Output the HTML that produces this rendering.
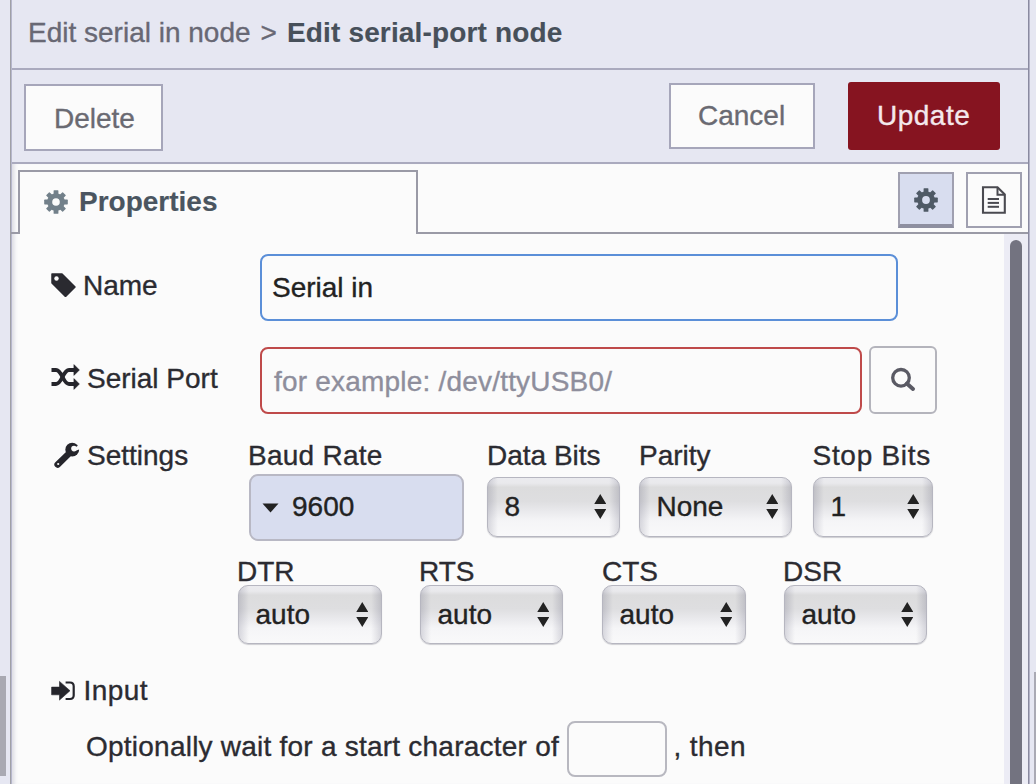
<!DOCTYPE html>
<html><head><meta charset="utf-8">
<style>
*{box-sizing:border-box;margin:0;padding:0}
html,body{width:1036px;height:784px;overflow:hidden}
body{position:relative;background:#e6e7f2;font-family:"Liberation Sans",sans-serif;font-size:28px;color:#2b2b31}
.a{position:absolute}
.t{position:absolute;white-space:pre;line-height:1;-webkit-text-stroke:0.35px currentColor}
.vline{position:absolute;width:1px;background:#9a9aa6}
.hline{position:absolute;height:2px;background:#aaaabe}
.btn{position:absolute;background:#fbfbfb;border:2px solid #a6a6ba;}
.body{position:absolute;left:12px;top:164px;width:1016px;height:620px;background:#fbfbfb;box-shadow:inset 5px 0 4px -3px rgba(60,60,110,.18)}
.inp{position:absolute;border:2px solid #c4c4cc;border-radius:8px;background:#fbfbfb}
.sel{position:absolute;border-radius:10px;border:1px solid #b6b6c0;
 background:linear-gradient(to right,rgba(0,0,40,.13) 0,rgba(0,0,40,0) 10px,rgba(0,0,40,0) calc(100% - 10px),rgba(0,0,40,.13) 100%),linear-gradient(#ebebef 0,#e9e9ec 9%,#dcdcdd 16%,#dedee0 40%,#eaeaed 58%,#f5f5f7 74%,#f9f9fa 100%);
 box-shadow:0 1px 1px rgba(0,0,30,.18)}
.sel .v{position:absolute;top:50%;transform:translateY(-50%);left:16.5px;line-height:1;color:#222;-webkit-text-stroke:0.35px currentColor}
.arr{position:absolute;right:13px;top:50%;width:12.5px;height:26px;margin-top:-13px}
</style></head><body>
<!-- left strip -->
<div class="a" style="left:0;top:676px;width:6px;height:100px;background:#a9a9b2"></div>
<div class="vline" style="left:10px;top:0;height:784px;background:#a0a0a6"></div>
<div class="vline" style="left:11px;top:0;height:784px;background:#b6b7cc"></div>
<!-- right strip -->
<div class="vline" style="left:1028px;top:0;height:784px;background:#8a8aa0"></div>
<div class="vline" style="left:1029px;top:0;height:784px;background:#b4b4c8"></div>
<div class="a" style="left:1034px;top:672px;width:2px;height:112px;background:#aaaab4"></div>

<!-- header -->
<div class="t" style="left:28px;top:19px;color:#686874">Edit serial in node</div>
<div class="t" style="left:260.5px;top:19px;color:#686874">&gt;</div>
<div class="t" style="left:287px;top:19px;color:#47505a;font-weight:bold;-webkit-text-stroke:0.15px currentColor;letter-spacing:0.15px">Edit serial-port node</div>
<div class="hline" style="left:12px;top:68px;width:1016px"></div>
<div class="btn" style="left:24px;top:84px;width:139px;height:67px"></div>
<div class="t" style="left:54px;top:105px;color:#6a6a72">Delete</div>
<div class="btn" style="left:669px;top:83px;width:146px;height:66px"></div>
<div class="t" style="left:698px;top:102px;color:#6a6a72">Cancel</div>
<div class="a" style="left:848px;top:82px;width:152px;height:67.5px;background:#861420;border-radius:3px"></div>
<div class="t" style="left:877px;top:102px;color:#f4e8ec;letter-spacing:0.5px">Update</div>
<div class="hline" style="left:12px;top:162px;width:1016px"></div>

<!-- body -->
<div class="body"></div>

<!-- tab bar -->
<div class="a" style="left:11px;top:232px;width:1017px;height:2px;background:#9a9aa6"></div>
<div class="a" style="left:18px;top:170px;width:400px;height:64px;border:2px solid #9a9aa6;border-bottom:none;background:#fbfbfb"></div>
<svg class="a" style="left:43.5px;top:190px" width="24" height="24" viewBox="0 0 24 24"><defs><rect id="th" x="9.6" y="0.2" width="4.8" height="5" rx="0.6"/></defs><g fill="#72808a"><circle cx="12" cy="12" r="8.8"/>
<use href="#th"/><use href="#th" transform="rotate(45 12 12)"/><use href="#th" transform="rotate(90 12 12)"/><use href="#th" transform="rotate(135 12 12)"/>
<use href="#th" transform="rotate(180 12 12)"/><use href="#th" transform="rotate(225 12 12)"/><use href="#th" transform="rotate(270 12 12)"/><use href="#th" transform="rotate(315 12 12)"/></g>
<circle cx="12" cy="12" r="3.8" fill="#fbfbfb"/></svg>
<div class="t" style="left:79px;top:188px;color:#4a5560;font-weight:bold;-webkit-text-stroke:0.15px currentColor">Properties</div>

<div class="a" style="left:898px;top:172px;width:56px;height:56px;background:#d8ddef;border:2px solid #a0a0b0;border-bottom:4px solid #8e8fa0"></div>
<svg class="a" style="left:913.5px;top:188px" width="24" height="24" viewBox="0 0 24 24"><g fill="#4f5a66"><circle cx="12" cy="12" r="8.8"/>
<use href="#th"/><use href="#th" transform="rotate(45 12 12)"/><use href="#th" transform="rotate(90 12 12)"/><use href="#th" transform="rotate(135 12 12)"/>
<use href="#th" transform="rotate(180 12 12)"/><use href="#th" transform="rotate(225 12 12)"/><use href="#th" transform="rotate(270 12 12)"/><use href="#th" transform="rotate(315 12 12)"/></g>
<circle cx="12" cy="12" r="3.9" fill="#d8ddef"/></svg>
<div class="a" style="left:966px;top:172px;width:56px;height:56px;background:#fbfbfb;border:2px solid #a0a0b0"></div>
<svg class="a" style="left:981px;top:185px" width="26" height="30" viewBox="0 0 26 30"><path d="M2 2.2 H16.5 L23.8 9.5 V27.8 H2 Z" fill="none" stroke="#4a4a50" stroke-width="2.1"/><path d="M16.5 2.2 V9.8 H23.8" fill="none" stroke="#4a4a50" stroke-width="2"/>
<rect x="6.7" y="13" width="11.3" height="2" fill="#4a4a50"/><rect x="6.7" y="16.9" width="11.3" height="2" fill="#4a4a50"/><rect x="6.7" y="20.8" width="11.3" height="2" fill="#4a4a50"/></svg>

<!-- scrollbar -->
<div class="a" style="left:1004px;top:234px;width:24px;height:550px;background:#ececf5"></div>
<div class="a" style="left:1010px;top:240px;width:12px;height:560px;background:#737380;border-radius:6px"></div>

<!-- Name -->
<svg class="a" style="left:51px;top:273px" width="25" height="24" viewBox="0 0 25 24"><path d="M1 1 H11 L24 14 L14.5 23.5 L1 10 Z" fill="#2a2a30" stroke="#2a2a30" stroke-width="1.5" stroke-linejoin="round"/><circle cx="5.5" cy="5.5" r="2.2" fill="#fbfbfb"/></svg>
<div class="t" style="left:83px;top:272px">Name</div>
<div class="inp" style="left:260px;top:254px;width:638px;height:67px;border-color:#5b8fd8"></div>
<div class="t" style="left:272px;top:274px;color:#222">Serial in</div>

<!-- Serial Port -->
<svg class="a" style="left:51px;top:364px" width="29" height="26" viewBox="0 0 29 26"><g fill="none" stroke="#25252b" stroke-width="3.9"><path d="M0.5 6 H5 C11 6 12 20 18 20 H24"/><path d="M0.5 20 H5 C11 20 12 6 18 6 H24"/></g><path d="M23 0.7 L28.3 6 L23 11.3 Z M23 14.7 L28.3 20 L23 25.3 Z" fill="#25252b" stroke="#25252b" stroke-width="0.8" stroke-linejoin="round"/></svg>
<div class="t" style="left:87px;top:365px">Serial Port</div>
<div class="inp" style="left:260px;top:347px;width:602px;height:67px;border-color:#bf4a4a"></div>
<div class="t" style="left:274px;top:367.5px;color:#8e8e9c;letter-spacing:0.2px">for example: /dev/ttyUSB0/</div>
<div class="inp" style="left:869px;top:346px;width:68px;height:68px;border-color:#b4b4bc;border-radius:6px"></div>
<svg class="a" style="left:886px;top:364px" width="32" height="32" viewBox="0 0 32 32"><circle cx="15" cy="13.8" r="8.3" fill="none" stroke="#5a5a64" stroke-width="3.3"/><path d="M20.8 19.6 L27 25" stroke="#5a5a64" stroke-width="4" stroke-linecap="round"/></svg>

<!-- Settings -->
<svg class="a" style="left:53px;top:442px" width="28" height="28" viewBox="0 0 28 28"><defs><mask id="wm" maskUnits="userSpaceOnUse" x="0" y="0" width="28" height="28"><rect width="28" height="28" fill="#fff"/><circle cx="21" cy="6.6" r="2.8" fill="#000"/><path d="M21 6.6 L27.5 1.8 L30 6 L22 9 Z" fill="#000"/></mask></defs><g fill="#25252b" mask="url(#wm)"><circle cx="19.2" cy="7.7" r="6.9"/><path d="M4.6 22.6 L15.5 12" stroke="#25252b" stroke-width="6.4" stroke-linecap="round"/></g><circle cx="5.2" cy="22" r="1.1" fill="#fbfbfb"/></svg>
<div class="t" style="left:87px;top:442px">Settings</div>

<div class="t" style="left:248px;top:442px;letter-spacing:0.25px">Baud Rate</div>
<div class="a" style="left:249px;top:474px;width:215px;height:67px;border:2px solid #b8b8c4;border-radius:9px;background:#d8ddef"></div>
<svg class="a" style="left:262px;top:503px" width="17" height="10" viewBox="0 0 17 10"><path d="M0.5 0.5 H16.5 L8.5 9.5 Z" fill="#222"/></svg>
<div class="t" style="left:292px;top:493px;color:#222">9600</div>

<div class="t" style="left:487px;top:442px">Data Bits</div>
<div class="sel" style="left:487px;top:477px;width:133px;height:60px"><span class="v">8</span><svg class="arr" viewBox="0 0 12 26"><path d="M6 0 L12 10 H0 Z M0 15 H12 L6 25 Z" fill="#222"/></svg></div>
<div class="t" style="left:639px;top:442px">Parity</div>
<div class="sel" style="left:639px;top:477px;width:153px;height:60px"><span class="v">None</span><svg class="arr" viewBox="0 0 12 26"><path d="M6 0 L12 10 H0 Z M0 15 H12 L6 25 Z" fill="#222"/></svg></div>
<div class="t" style="left:812.5px;top:442px;letter-spacing:0.7px">Stop Bits</div>
<div class="sel" style="left:813px;top:477px;width:120px;height:60px"><span class="v">1</span><svg class="arr" viewBox="0 0 12 26"><path d="M6 0 L12 10 H0 Z M0 15 H12 L6 25 Z" fill="#222"/></svg></div>

<!-- DTR row -->
<div class="t" style="left:237px;top:558px">DTR</div>
<div class="sel" style="left:238px;top:585px;width:144px;height:59px"><span class="v">auto</span><svg class="arr" viewBox="0 0 12 26"><path d="M6 0 L12 10 H0 Z M0 15 H12 L6 25 Z" fill="#222"/></svg></div>
<div class="t" style="left:419px;top:558px">RTS</div>
<div class="sel" style="left:420px;top:585px;width:143px;height:59px"><span class="v">auto</span><svg class="arr" viewBox="0 0 12 26"><path d="M6 0 L12 10 H0 Z M0 15 H12 L6 25 Z" fill="#222"/></svg></div>
<div class="t" style="left:601px;top:558px;margin-left:1px">CTS</div>
<div class="sel" style="left:602px;top:585px;width:144px;height:59px"><span class="v">auto</span><svg class="arr" viewBox="0 0 12 26"><path d="M6 0 L12 10 H0 Z M0 15 H12 L6 25 Z" fill="#222"/></svg></div>
<div class="t" style="left:783px;top:558px">DSR</div>
<div class="sel" style="left:784px;top:585px;width:143px;height:59px"><span class="v">auto</span><svg class="arr" viewBox="0 0 12 26"><path d="M6 0 L12 10 H0 Z M0 15 H12 L6 25 Z" fill="#222"/></svg></div>

<!-- Input -->
<svg class="a" style="left:51px;top:680px" width="25" height="22" viewBox="0 0 25 22"><path d="M0.6 7.1 H8.5 V1.4 L19 10.7 L8.5 20.1 V14.8 H0.6 Z" fill="#25252b" stroke="#25252b" stroke-width="0.6" stroke-linejoin="round"/><path d="M14.6 2.5 H19 Q22.7 2.5 22.7 6.2 V15.3 Q22.7 19 19 19 H14.6" fill="none" stroke="#25252b" stroke-width="2.2"/></svg>
<div class="t" style="left:83.5px;top:677px;letter-spacing:0.45px">Input</div>
<div class="t" style="left:86px;top:733px;letter-spacing:0.23px">Optionally wait for a start character of</div>
<div class="inp" style="left:567px;top:721px;width:100px;height:56px;border-color:#b8b8c0"></div>
<div class="t" style="left:673.5px;top:733px;letter-spacing:0.4px">, then</div>
</body></html>
